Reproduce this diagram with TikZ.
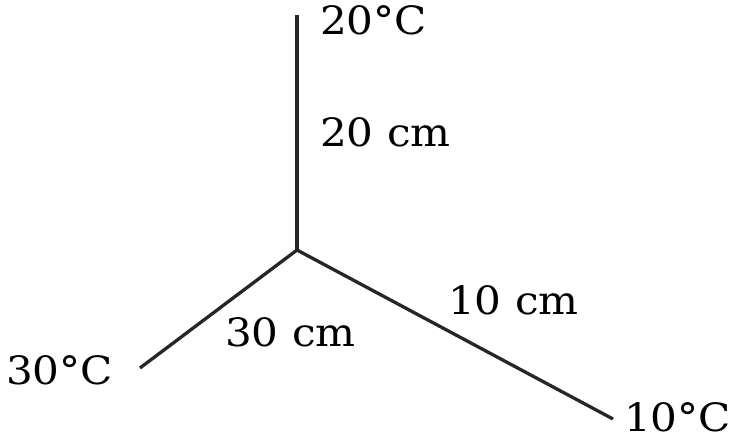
\documentclass[tikz,border=0pt]{standalone}
\usepackage{fontspec}
\setmainfont{DejaVu Serif}[FakeStretch=1.08]
\begin{document}
\begin{tikzpicture}[x=1pt,y=-1pt,
  lbl/.style={inner sep=0pt,anchor=base west,font=\fontsize{39}{42}\selectfont},
  rod/.style={line width=3.3pt,draw=black!85}]
\useasboundingbox (0,0) rectangle (738,438);
\coordinate (J) at (297,250);
\coordinate (T) at (297,15);
\coordinate (L) at (140,368);
\coordinate (R) at (613,419);
\draw[rod] (T) -- (J);
\draw[rod] (L) -- (J) -- (R);
\node[lbl] (t20) at (320,35) {20°C};
\node[lbl] (l20) at (320,147) {20 cm};
\node[lbl] (l30) at (225,346) {30 cm};
\node[lbl] (t30) at (6,384) {30°C};
\node[lbl] (l10) at (448,314) {10 cm};
\node[lbl] (t10) at (624,431) {10°C};
\end{tikzpicture}
\end{document}
